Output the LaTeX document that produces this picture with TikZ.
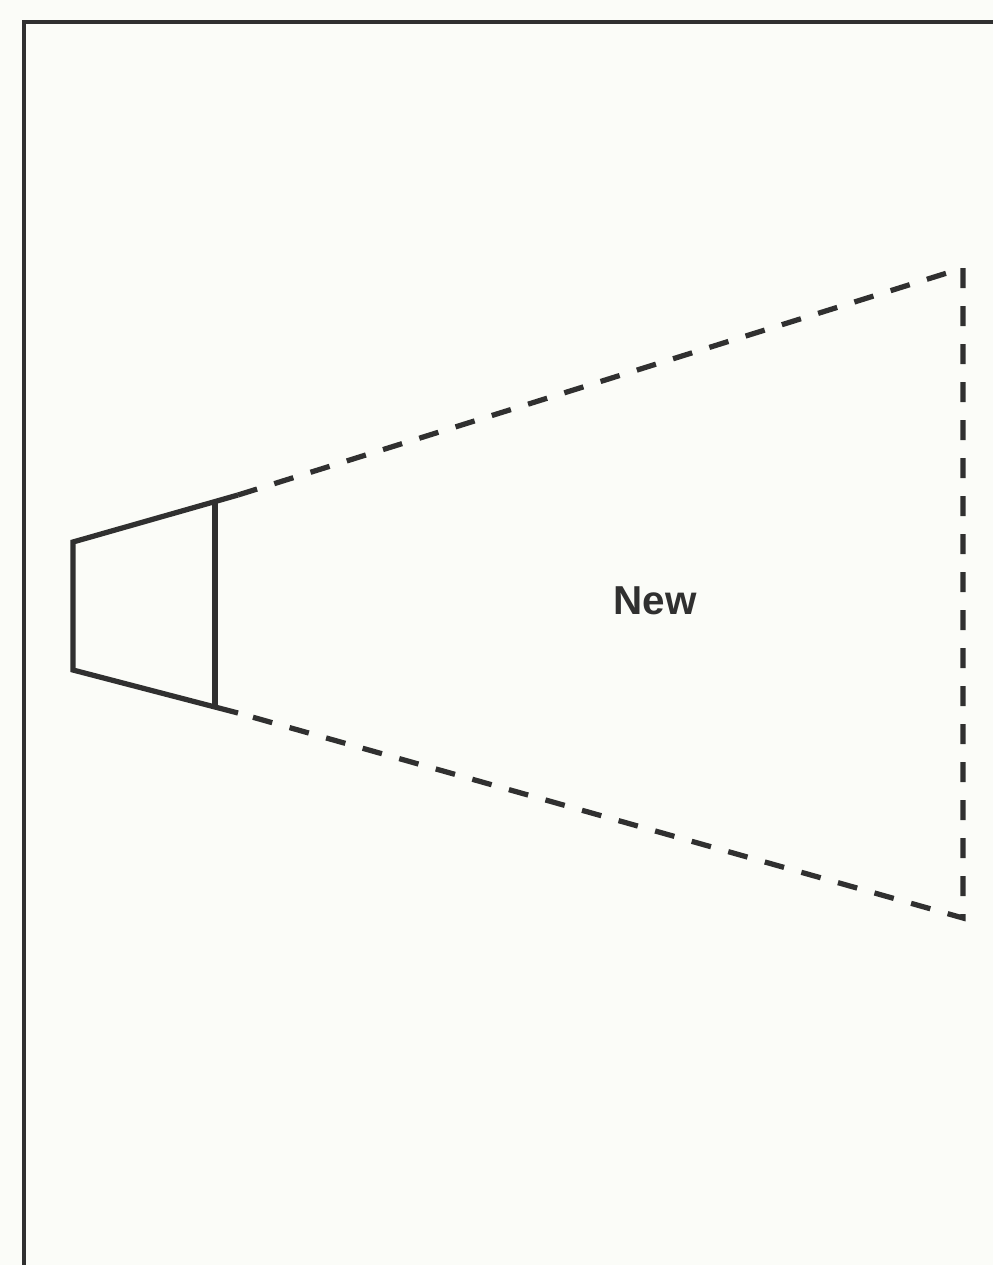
\documentclass[tikz,border=0pt]{standalone}
\usepackage{fontspec}
\setsansfont{Liberation Sans}
\usetikzlibrary{positioning,calc}
\definecolor{paper}{RGB}{251,252,248}
\definecolor{inkgray}{RGB}{48,48,48}

\begin{document}
\begin{tikzpicture}
		[x=0.02cm, y=-0.02cm, line width=0.105cm,
		 ink/.style={draw=inkgray},
		 beam/.style={ink, dash pattern=on 0.40cm off 0.36cm},
		 tag/.style={font=\sffamily\bfseries\fontsize{23}{28}\selectfont, text=inkgray, inner sep=0pt}]
		\useasboundingbox (0,0) rectangle (993,1265);
		\fill[paper] (0,0) rectangle (993,1265);
		\clip (0,0) rectangle (993,1265);
		% outer frame, runs off the page right and below
		\draw[ink, line width=0.09cm] (24,1300) -- (24,22) -- (1030,22);

		\coordinate (lens-tl) at (73,542);
		\coordinate (lens-bl) at (73,670);
		\coordinate (lens-tr) at (215,502);
		\coordinate (lens-br) at (215,707);
		\coordinate (beam-t) at (238,495);
		\coordinate (beam-b) at (238,713);
		\coordinate (field-t) at (963,268);
		\coordinate (field-b) at (963,918);

		\draw[ink] (beam-t) -- (lens-tl) -- (lens-bl) -- (beam-b);
		\draw[ink] (lens-tr) -- (lens-br);
		\draw[beam] (beam-t) -- (field-t) -- (field-b) -- (beam-b);

		\node[tag] (new) at (655,601) {New};
	\end{tikzpicture}
\end{document}
